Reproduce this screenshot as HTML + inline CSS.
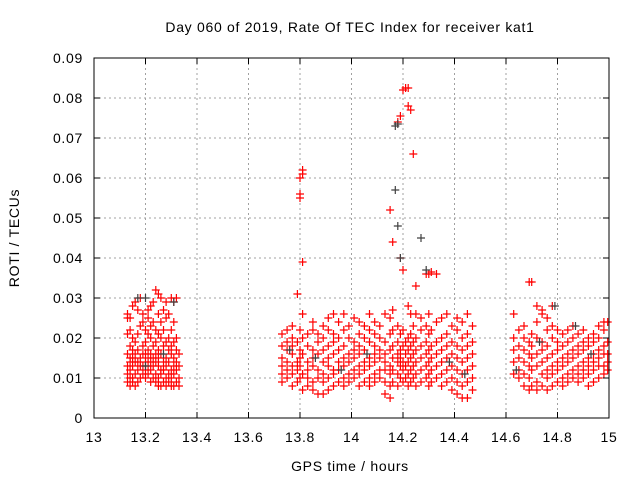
<!DOCTYPE html>
<html><head><meta charset="utf-8"><style>
html,body{margin:0;padding:0;background:#fff}
svg{display:block;font-family:"Liberation Sans",sans-serif}
svg text{letter-spacing:0.7px}
</style></head><body>
<svg id="chart" width="640" height="480" viewBox="0 0 640 480" xmlns="http://www.w3.org/2000/svg">
<rect width="640" height="480" fill="#fff"/>
<text x="350" y="32" font-size="14" text-anchor="middle">Day 060 of 2019, Rate Of TEC Index for receiver kat1</text>
<text x="350" y="471" font-size="14" text-anchor="middle">GPS time / hours</text>
<text x="19" y="238" font-size="14" text-anchor="middle" transform="rotate(-90 19 238)">ROTI / TECUs</text>
<g id="grid"></g>
<g id="marks"></g>
<g id="axes"></g>
</svg>
<script>
const xTicks=[13,13.2,13.4,13.6,13.8,14,14.2,14.4,14.6,14.8,15];
const xTickLabels=["13","13.2","13.4","13.6","13.8","14","14.2","14.4","14.6","14.8","15"];
const yTicks=[0,0.01,0.02,0.03,0.04,0.05,0.06,0.07,0.08,0.09];
const yTickLabels=["0","0.01","0.02","0.03","0.04","0.05","0.06","0.07","0.08","0.09"];
// red series: columns of [hour, [roti values]]
const redCols=[
[13.13,[.009,.011,.013,.016,.021,.025,.026]],
[13.14,[.008,.010,.012,.014,.015,.018,.022,.025]],
[13.15,[.009,.010,.013,.015,.017,.020,.028]],
[13.16,[.008,.011,.014,.016,.019,.029]],
[13.17,[.009,.012,.014,.017,.021,.027]],
[13.18,[.010,.013,.015,.023,.030]],
[13.19,[.011,.013,.016,.018,.024,.026]],
[13.20,[.010,.012,.014,.016,.019,.022]],
[13.21,[.011,.013,.015,.017,.021,.025,.027]],
[13.22,[.009,.012,.014,.016,.020,.023,.028]],
[13.23,[.010,.013,.015,.018,.024,.029]],
[13.24,[.009,.011,.014,.016,.019,.022,.032]],
[13.25,[.008,.010,.013,.015,.017,.021,.026,.031]],
[13.26,[.008,.011,.012,.016,.020,.024,.030]],
[13.27,[.009,.012,.014,.018,.022,.027]],
[13.28,[.008,.010,.013,.015,.019,.025,.029]],
[13.29,[.009,.011,.014,.017,.020,.026]],
[13.30,[.008,.010,.012,.016,.018,.022,.030]],
[13.31,[.008,.011,.013,.015,.019,.024,.029]],
[13.32,[.009,.012,.014,.017,.020,.030]],
[13.33,[.008,.010,.013,.016]],
[13.73,[.009,.011,.013,.015,.018,.021]],
[13.75,[.010,.012,.014,.017,.019,.022]],
[13.77,[.008,.011,.013,.016,.018,.020,.023]],
[13.79,[.009,.012,.014,.019,.031]],
[13.80,[.010,.013,.015,.017,.022,.055,.056,.060]],
[13.81,[.007,.011,.016,.020,.026,.039,.061,.062]],
[13.83,[.008,.010,.012,.014,.018,.021]],
[13.85,[.007,.009,.013,.015,.017,.022,.024]],
[13.87,[.006,.010,.012,.016,.019,.021]],
[13.89,[.006,.009,.011,.014,.017,.020,.023]],
[13.91,[.007,.010,.013,.015,.018,.022,.025]],
[13.93,[.008,.011,.012,.016,.019,.021,.026]],
[13.95,[.009,.012,.014,.017,.020,.024]],
[13.97,[.008,.010,.013,.015,.018,.022,.026]],
[13.99,[.009,.011,.014,.016,.020,.023]],
[14.01,[.010,.012,.015,.017,.019,.025]],
[14.03,[.008,.011,.013,.016,.018,.021,.024]],
[14.05,[.009,.012,.014,.017,.020,.023]],
[14.07,[.008,.010,.013,.015,.019,.022,.026]],
[14.09,[.009,.011,.014,.016,.018,.021,.024]],
[14.11,[.010,.012,.015,.017,.020,.023]],
[14.13,[.006,.009,.012,.014,.016,.019,.026]],
[14.15,[.005,.008,.011,.013,.017,.021,.025,.052]],
[14.16,[.009,.012,.015,.018,.022,.027,.044]],
[14.18,[.008,.011,.014,.016,.019,.023,.074]],
[14.19,[.010,.013,.015,.017,.021,.040,.0755]],
[14.20,[.009,.012,.014,.018,.022,.037,.082]],
[14.21,[.010,.013,.016,.019,.0825]],
[14.22,[.008,.011,.014,.017,.020,.028,.0825,.078]],
[14.23,[.009,.012,.015,.018,.021,.026,.077]],
[14.24,[.010,.013,.016,.019,.023,.066]],
[14.25,[.008,.011,.014,.017,.020,.026,.033]],
[14.27,[.009,.012,.015,.018,.022,.025]],
[14.29,[.010,.013,.016,.019,.023,.036]],
[14.30,[.008,.011,.014,.017,.021,.026,.036]],
[14.31,[.009,.012,.015,.018,.022,.0365]],
[14.33,[.010,.013,.016,.019,.024,.036]],
[14.35,[.008,.011,.014,.017,.020,.025]],
[14.37,[.009,.012,.015,.018,.021,.026]],
[14.39,[.007,.010,.013,.016,.019,.023]],
[14.41,[.006,.009,.012,.015,.018,.022,.025]],
[14.43,[.005,.008,.011,.014,.017,.020,.024]],
[14.45,[.005,.009,.012,.015,.018,.021,.026]],
[14.47,[.007,.010,.013,.016,.019,.023]],
[14.63,[.011,.014,.017,.020,.026]],
[14.65,[.010,.012,.015,.018,.022]],
[14.67,[.008,.011,.014,.017,.020,.023]],
[14.69,[.007,.010,.013,.016,.019,.034]],
[14.70,[.008,.012,.015,.018,.021,.034]],
[14.72,[.007,.009,.013,.016,.020,.024,.028]],
[14.74,[.008,.011,.014,.017,.019,.026,.027]],
[14.76,[.007,.010,.012,.015,.018,.022,.025]],
[14.78,[.008,.011,.013,.016,.020,.023,.028]],
[14.80,[.009,.012,.014,.017,.019,.022]],
[14.82,[.008,.010,.013,.015,.018,.021]],
[14.84,[.009,.011,.014,.016,.019,.022]],
[14.86,[.010,.012,.015,.017,.020,.023]],
[14.88,[.009,.011,.013,.016,.018,.021]],
[14.90,[.010,.012,.014,.017,.019,.022]],
[14.92,[.008,.011,.013,.015,.018,.020]],
[14.94,[.009,.012,.014,.016,.019,.021]],
[14.96,[.010,.013,.015,.017,.020,.023]],
[14.98,[.011,.013,.016,.018,.022,.024]],
[14.995,[.012,.014,.016,.019,.024]]
];
// dark series
const darkCols=[
[13.17,[.030]],[13.2,[.030,.013]],[13.27,[.016]],[13.31,[.029]],
[13.76,[.017]],[13.86,[.015]],[13.96,[.012]],[14.06,[.016]],
[14.17,[.057,.073]],[14.18,[.048,.0735]],[14.19,[.040]],[14.27,[.045]],
[14.29,[.037]],[14.38,[.014]],[14.44,[.011]],
[14.64,[.012]],[14.73,[.019]],[14.79,[.028]],[14.87,[.023]],[14.93,[.016]]
];
const NS="http://www.w3.org/2000/svg";
const L=94,R=609,T=58,B=418;
function xs(v){return L+(v-13)/2*(R-L);}
function ys(v){return B-v/0.09*(B-T);}
function mk(tag,attrs,parent){const e=document.createElementNS(NS,tag);for(const k in attrs)e.setAttribute(k,attrs[k]);parent.appendChild(e);return e;}
const grid=document.getElementById('grid'),marks=document.getElementById('marks'),axes=document.getElementById('axes');
xTicks.forEach((t,i)=>{
 if(i>0&&i<xTicks.length-1){const g=mk('line',{x1:xs(t),x2:xs(t),y1:T,y2:B,stroke:'#a0a0a0','stroke-dasharray':'2,3'},grid);
 
 }
 const tk=mk('path',{d:`M${xs(t)},${B}v-6M${xs(t)},${T}v6`,stroke:'#000'},axes);
 
 
 const lb=mk('text',{x:xs(t),y:442,'font-size':14,'text-anchor':'middle'},axes);lb.textContent=xTickLabels[i];
 
 
});
yTicks.forEach((t,i)=>{
 if(i>0&&i<yTicks.length-1){const g=mk('line',{x1:L,x2:R,y1:ys(t),y2:ys(t),stroke:'#a0a0a0','stroke-dasharray':'2,3'},grid);
 
 }
 const tk=mk('path',{d:`M${L},${ys(t)}h6M${R},${ys(t)}h-6`,stroke:'#000'},axes);
 
 
 const lb=mk('text',{x:83,y:ys(t)+5,'font-size':14,'text-anchor':'end'},axes);lb.textContent=yTickLabels[i];
 
 
});
const fr=mk('rect',{x:L,y:T,width:R-L,height:B-T,fill:'none',stroke:'#000'},axes);


function plus(x,y,c,name){
 const p=mk('path',{d:`M${(xs(x)-4).toFixed(1)},${ys(y).toFixed(1)}h8M${xs(x).toFixed(1)},${(ys(y)-4).toFixed(1)}v8`,stroke:c,'stroke-width':1.2},marks);
 
 
}
redCols.forEach(c=>c[1].forEach(v=>plus(c[0],v,'#ff0000','red-point')));
darkCols.forEach(c=>c[1].forEach(v=>plus(c[0],v,'#404040','dark-point')));
</script>
</body></html>
